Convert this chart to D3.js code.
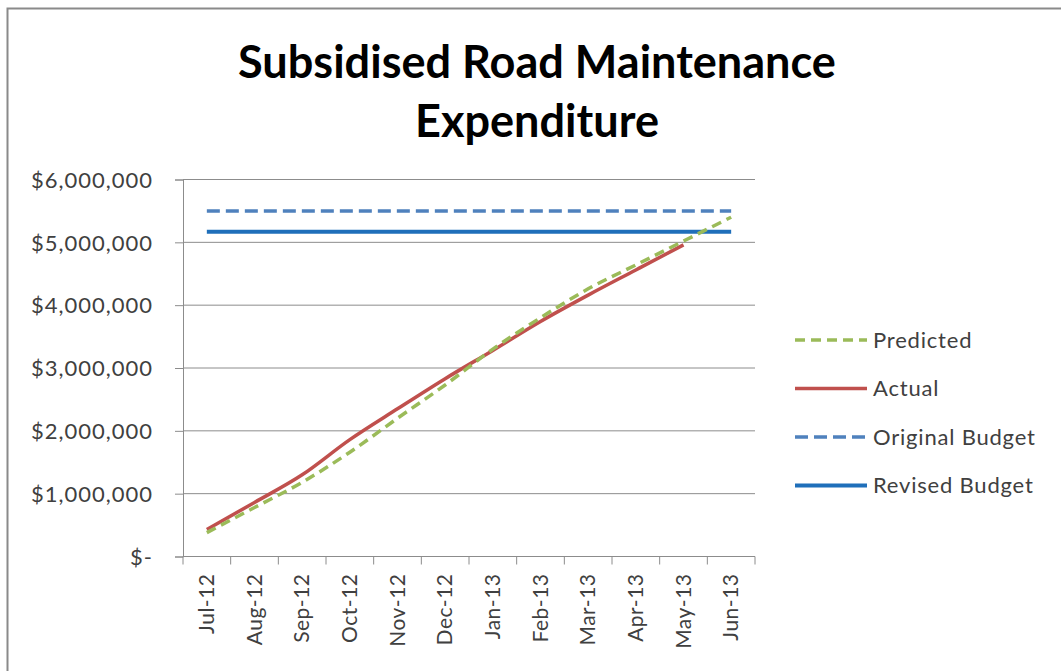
<!DOCTYPE html>
<html>
<head>
<meta charset="utf-8">
<script src="https://d3js.org/d3.v7.min.js"></script>
<style>
  body { margin: 0; background: #fff; }
  text { font-family: Lato, "Open Sans", sans-serif; }
</style>
</head>
<body>
<svg id="chart"></svg>
<script>
// data ($)
const months = ["Jul-12", "Aug-12", "Sep-12", "Oct-12", "Nov-12", "Dec-12",
                "Jan-13", "Feb-13", "Mar-13", "Apr-13", "May-13", "Jun-13"];
const predicted = [380000, 780000, 1180000, 1660000, 2200000, 2730000,
                   3300000, 3800000, 4260000, 4640000, 5020000, 5400000];
const actual = [430000, 860000, 1300000, 1860000, 2350000, 2830000,
                3280000, 3740000, 4160000, 4560000, 4960000];
const originalBudget = 5500000;
const revisedBudget = 5170000;
const yTicks = [0, 1000000, 2000000, 3000000, 4000000, 5000000, 6000000];

const width = 1061, height = 671;
const svg = d3.select("#chart").attr("width", width).attr("height", height);

// outer chart frame
svg.append("rect")
    .attr("x", 7.5).attr("y", 8.5)
    .attr("width", 1100).attr("height", 700)
    .attr("fill", "none")
    .attr("stroke", "#8a8a8a")
    .attr("stroke-width", 2);

// title
const title = svg.append("g").attr("font-weight", "bold").attr("fill", "#000");
const t1 = title.append("text")
    .attr("x", 537).attr("y", 78)
    .attr("text-anchor", "middle")
    .style("font-size", "40px")
    .text("Subsidised Road Maintenance");
// fit the first line to the width seen in the picture
const fs = 40 * 598 / t1.node().getComputedTextLength();
t1.style("font-size", fs + "px");
title.append("text")
    .attr("x", 537).attr("y", 137)
    .attr("text-anchor", "middle")
    .style("font-size", fs + "px")
    .text("Expenditure");

// scales
const x = d3.scaleBand().domain(months).range([183, 755]);
const y = d3.scaleLinear().domain([0, 6000000]).range([556.5, 179.5]);
const cx = m => x(m) + x.bandwidth() / 2;

// gridlines
svg.append("g")
    .selectAll("line")
    .data(yTicks.slice(1))
    .join("line")
    .attr("x1", 183).attr("x2", 755)
    .attr("y1", d => y(d)).attr("y2", d => y(d))
    .attr("stroke", "#8c8c8c")
    .attr("stroke-width", 1);

// y axis
const fmt = d => d === 0 ? "$-" : "$" + d3.format(",")(d);
const yAxis = svg.append("g")
    .attr("transform", "translate(183,0)")
    .call(d3.axisLeft(y).tickValues(yTicks).tickFormat(fmt).tickSizeOuter(0).tickSize(8).tickPadding(22));
yAxis.select(".domain").attr("stroke", "#8c8c8c");
yAxis.selectAll(".tick line").attr("stroke", "#8c8c8c");
yAxis.selectAll("text")
    .attr("fill", "#404040")
    .style("font-size", "22px")
    .style("letter-spacing", "1px")
    .attr("dy", "0.35em");

// x axis (ticks on category boundaries)
const xAxisG = svg.append("g").attr("transform", "translate(0,556.5)");
xAxisG.append("line")
    .attr("x1", 183).attr("x2", 755)
    .attr("stroke", "#8c8c8c");
xAxisG.selectAll(".tk")
    .data(months.concat(["end"]))
    .join("line")
    .attr("class", "tk")
    .attr("x1", (d, i) => 183 + i * x.step())
    .attr("x2", (d, i) => 183 + i * x.step())
    .attr("y1", 0).attr("y2", 8)
    .attr("stroke", "#8c8c8c");
xAxisG.selectAll(".lbl")
    .data(months)
    .join("text")
    .attr("class", "lbl")
    .attr("transform", d => "translate(" + (cx(d) + 7) + ",17) rotate(-90)")
    .attr("text-anchor", "end")
    .attr("fill", "#404040")
    .style("font-size", "21px")
    .style("letter-spacing", "0.5px")
    .text(d => d);

// lines
const line = d3.line()
    .x((d, i) => cx(months[i]))
    .y(d => y(d))
    .curve(d3.curveMonotoneX);

const series = [
  { name: "Predicted", color: "#9bbb59", dash: "10,6", width: 3.5 },
  { name: "Actual", color: "#c0504d", dash: null, width: 3.5 },
  { name: "Original Budget", color: "#4f81bd", dash: "13,6", width: 3.5 },
  { name: "Revised Budget", color: "#1f6fba", dash: null, width: 4 }
];

const budgetLine = v => [[cx(months[0]), y(v)], [cx(months[months.length - 1]), y(v)]];

svg.append("path")
    .attr("d", d3.line()(budgetLine(originalBudget)))
    .attr("fill", "none")
    .attr("stroke", series[2].color)
    .attr("stroke-width", series[2].width)
    .attr("stroke-dasharray", series[2].dash);

svg.append("path")
    .attr("d", d3.line()(budgetLine(revisedBudget)))
    .attr("fill", "none")
    .attr("stroke", series[3].color)
    .attr("stroke-width", series[3].width);

svg.append("path")
    .datum(actual)
    .attr("d", line)
    .attr("fill", "none")
    .attr("stroke", series[1].color)
    .attr("stroke-width", series[1].width);

svg.append("path")
    .datum(predicted)
    .attr("d", line)
    .attr("fill", "none")
    .attr("stroke", series[0].color)
    .attr("stroke-width", series[0].width)
    .attr("stroke-dasharray", series[0].dash);

// legend
const legend = svg.append("g").attr("transform", "translate(795,340)");
const item = legend.selectAll("g")
    .data(series)
    .join("g")
    .attr("transform", (d, i) => "translate(0," + (i * 48.5) + ")");
item.append("line")
    .attr("x1", 0).attr("x2", 72)
    .attr("stroke", d => d.color)
    .attr("stroke-width", d => d.width)
    .attr("stroke-dasharray", d => d.dash);
item.append("text")
    .attr("x", 78)
    .attr("dy", "0.35em")
    .attr("fill", "#404040")
    .style("font-size", "22px")
    .style("letter-spacing", "0.8px")
    .text(d => d.name);
</script>
</body>
</html>
